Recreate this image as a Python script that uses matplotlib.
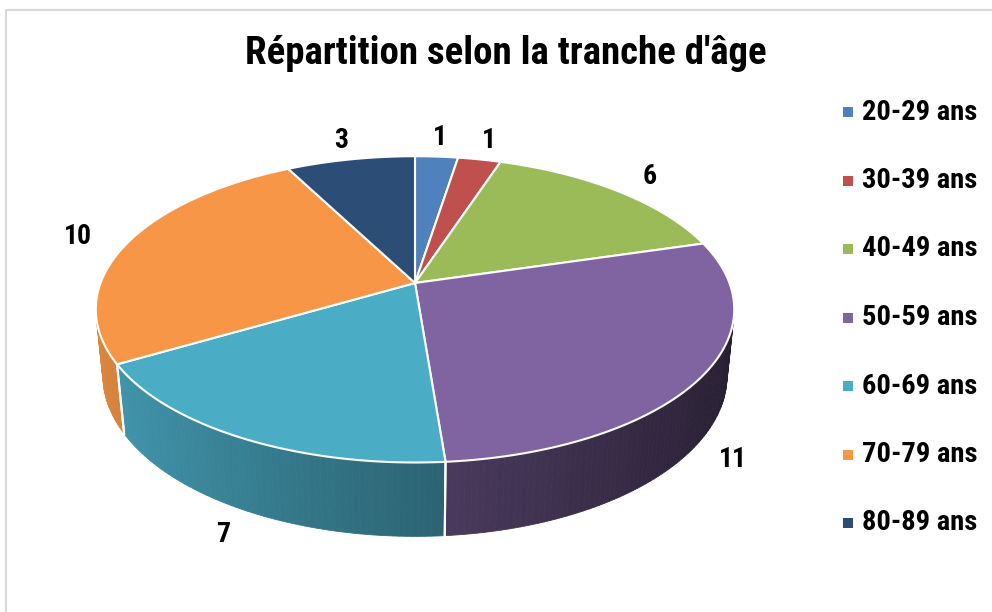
import numpy as np
import matplotlib
matplotlib.use("Agg")
import matplotlib.pyplot as plt
from matplotlib.patches import Polygon, Rectangle
from matplotlib.colors import to_rgb

# Data
categories = ["20-29 ans", "30-39 ans", "40-49 ans", "50-59 ans",
              "60-69 ans", "70-79 ans", "80-89 ans"]
counts = [1, 1, 6, 11, 7, 10, 3]
colors = ["#4f81bd", "#c0504d", "#9bbb59", "#8064a2",
          "#4bacc6", "#f79646", "#2c4d75"]
title = "Répartition selon la tranche d'âge"

plt.rcParams["font.family"] = ["Liberation Sans Narrow", "Roboto Condensed",
                               "Liberation Sans", "DejaVu Sans"]

W, H = 992, 612
fig = plt.figure(figsize=(W / 100, H / 100), dpi=100)
ax = fig.add_axes([0, 0, 1, 1])
ax.set_xlim(0, W)
ax.set_ylim(H, 0)
ax.axis("off")

# simple perspective camera for the tilted disk
CX, CY = 415, 283
F, D = 1610, 5.12
alpha = np.radians(28.2)
s, c = np.sin(alpha), np.cos(alpha)
THICK = 0.241


def proj(theta, r=1.0, y=0.0):
    x = r * np.sin(theta)
    z = r * np.cos(theta)
    v = z * s + y * c
    w = z * c - y * s
    return CX + F * x / (D + w), CY - F * v / (D + w)


total = sum(counts)
bounds = np.concatenate([[0], np.cumsum(counts)]) / total * 2 * np.pi

# side wall (only the part facing the camera)
lim = np.arccos(-1.0 / (D * c))
for i, col in enumerate(colors):
    a0, a1 = max(bounds[i], lim), min(bounds[i + 1], 2 * np.pi - lim)
    if a1 <= a0:
        continue
    ts = np.linspace(a0, a1, max(int(np.degrees(a1 - a0)), 2) + 1)
    base = np.array(to_rgb(col))
    for t0, t1 in zip(ts[:-1], ts[1:]):
        tm = 0.5 * (t0 + t1)
        f = np.clip(0.6 - 0.3 * np.sin(tm), 0.2, 1.0)
        pts = [proj(t0), proj(t1), proj(t1, y=-THICK), proj(t0, y=-THICK)]
        ax.add_patch(Polygon(pts, closed=True, facecolor=base * f,
                             edgecolor=base * f, lw=0.6, zorder=2))
    # white seam at slice boundaries on the wall
    for b in (bounds[i], bounds[i + 1]):
        if lim < b < 2 * np.pi - lim:
            p0, p1 = proj(b), proj(b, y=-THICK)
            ax.plot([p0[0], p1[0]], [p0[1], p1[1]], color="white", lw=1.5, zorder=3)

# top face
for i, col in enumerate(colors):
    ts = np.linspace(bounds[i], bounds[i + 1], 120)
    pts = [proj(0, r=0)] + [proj(t) for t in ts]
    ax.add_patch(Polygon(pts, closed=True, facecolor=col, edgecolor="white",
                         lw=1.5, joinstyle="round", zorder=4))

# value labels
for i, n in enumerate(counts):
    tm = 0.5 * (bounds[i] + bounds[i + 1])
    if np.cos(tm) < 0:
        lx, ly = proj(tm, r=1.12, y=-THICK)
    else:
        lx, ly = proj(tm, r=1.18)
    ax.text(lx, ly, str(n), ha="center", va="center", fontsize=20,
            fontweight="bold", color="black", zorder=5)

# legend
for i, (cat, col) in enumerate(zip(categories, colors)):
    ly = 112 + i * 68.5
    ax.add_patch(Rectangle((843, ly - 5), 10, 10, facecolor=col, edgecolor="none"))
    ax.text(862, ly, cat, ha="left", va="center", fontsize=20.5,
            fontweight="bold", color="black")

ax.text(506, 54, title, ha="center", va="center", fontsize=28,
        fontweight="bold", color="black")

# chart frame
ax.plot([5.5, 5.5, W], [H, 9.5, 9.5], color="#d9d9d9", lw=1.5)

fig.savefig("out.png", dpi=100)
